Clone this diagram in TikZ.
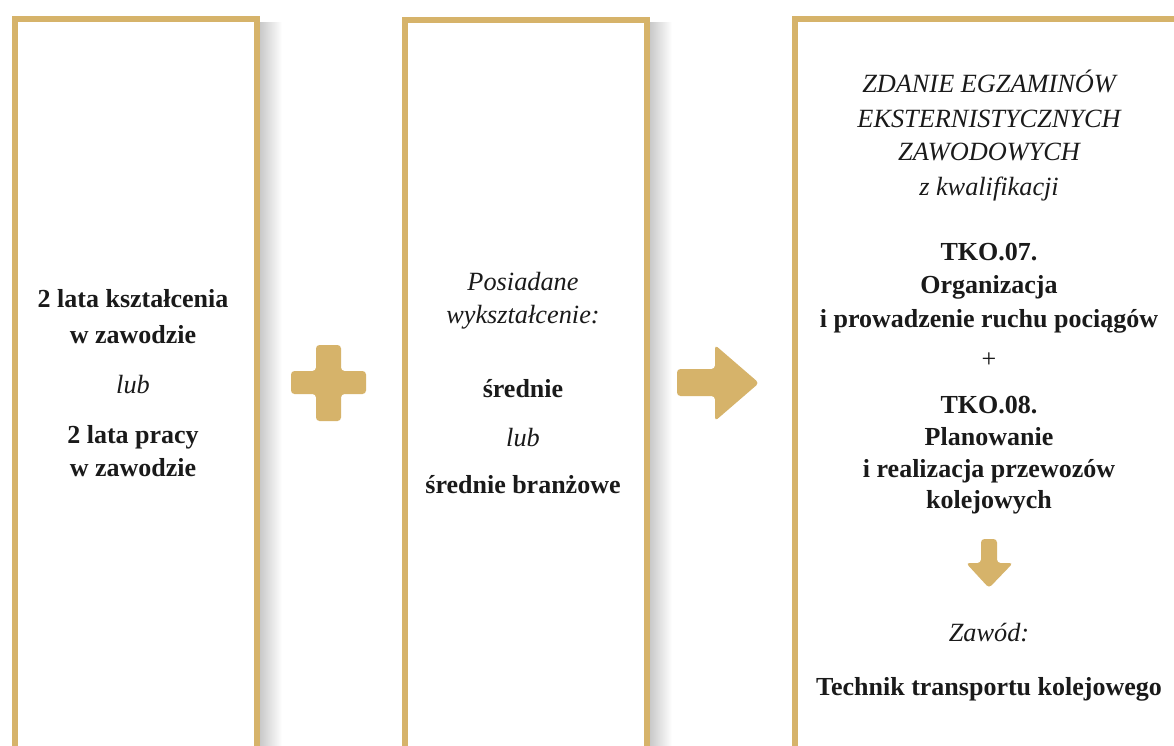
\documentclass[tikz,border=0pt]{standalone}
\usepackage{fontspec}
\setmainfont{Liberation Serif}
\usetikzlibrary{shadings}
\definecolor{gold}{RGB}{214,179,106}
\definecolor{ink}{RGB}{26,26,26}
\tikzset{
  panel/.style={draw=gold, line width=6pt, fill=white, inner sep=0pt},
  shadowbar/.style={left color=black!24, right color=white, draw=none},
  sym/.style={fill=gold, draw=none, rounded corners=3.5pt},
  bl/.style={anchor=base, inner sep=0pt, text=ink, font=\fontsize{26}{30}\selectfont\bfseries},
  il/.style={anchor=base, inner sep=0pt, text=ink, font=\fontsize{26.3}{30}\selectfont\itshape},
  rl/.style={anchor=base, inner sep=0pt, text=ink, font=\fontsize{26}{30}\selectfont},
}
\begin{document}
\begin{tikzpicture}[x=1pt,y=-1pt]
\useasboundingbox (0,0) rectangle (1174,745);
\clip (0,0) rectangle (1174,745);
\fill[white] (0,0) rectangle (1174,745);
% shadows
\shade[shadowbar] (257,22) rectangle (282,760);
\shade[shadowbar] (647,22) rectangle (672,760);
% panels
\node[panel, minimum width=242pt, minimum height=800pt, anchor=north west] (p1) at (12,16) {};
\node[panel, minimum width=242pt, minimum height=800pt, anchor=north west] (p2) at (402,17) {};
\node[panel, minimum width=400pt, minimum height=800pt, anchor=north west] (p3) at (792,16) {};
% plus
\fill[sym] (316,345) -- (341,345) -- (341,371) -- (366,371) -- (366,394) -- (341,394) -- (341,421) -- (316,421) -- (316,394) -- (291,394) -- (291,371) -- (316,371) -- cycle;
% right arrow
\fill[sym] (677,369) -- (715,369) -- (715,345) -- (759,383) -- (715,421) -- (715,396) -- (677,396) -- cycle;
% down arrow
\fill[sym] (981,539) -- (997,539) -- (997,563) -- (1013,563) -- (989,588) -- (966,563) -- (981,563) -- cycle;
% box 1 text
\node[bl] (a1) at (133,307) {2 lata kształcenia};
\node[bl] (a2) at (133,343) {w zawodzie};
\node[il] (a3) at (133,393) {lub};
\node[bl] (a4) at (133,443) {2 lata pracy};
\node[bl] (a5) at (133,476) {w zawodzie};
% box 2 text
\node[il] (b1) at (523,290) {Posiadane};
\node[il] (b2) at (523,323) {wykształcenie:};
\node[bl] (b3) at (523,397) {średnie};
\node[il] (b4) at (523,446) {lub};
\node[bl] (b5) at (523,493) {średnie branżowe};
% box 3 text
\node[il] (c1) at (989,92) {ZDANIE EGZAMINÓW};
\node[il] (c2) at (989,127) {EKSTERNISTYCZNYCH};
\node[il] (c3) at (989,160) {ZAWODOWYCH};
\node[il] (c4) at (989,195) {z kwalifikacji};
\node[bl] (c5) at (989,260) {TKO.07.};
\node[bl] (c6) at (989,293) {Organizacja};
\node[bl] (c7) at (989,327) {i prowadzenie ruchu pociągów};
\node[rl] (c8) at (989,367) {+};
\node[bl] (c9) at (989,413) {TKO.08.};
\node[bl] (c10) at (989,445) {Planowanie};
\node[bl] (c11) at (989,477) {i realizacja przewozów};
\node[bl] (c12) at (989,508) {kolejowych};
\node[il] (c13) at (989,641) {Zawód:};
\node[bl] (c14) at (989,695) {Technik transportu kolejowego};
\end{tikzpicture}
\end{document}
